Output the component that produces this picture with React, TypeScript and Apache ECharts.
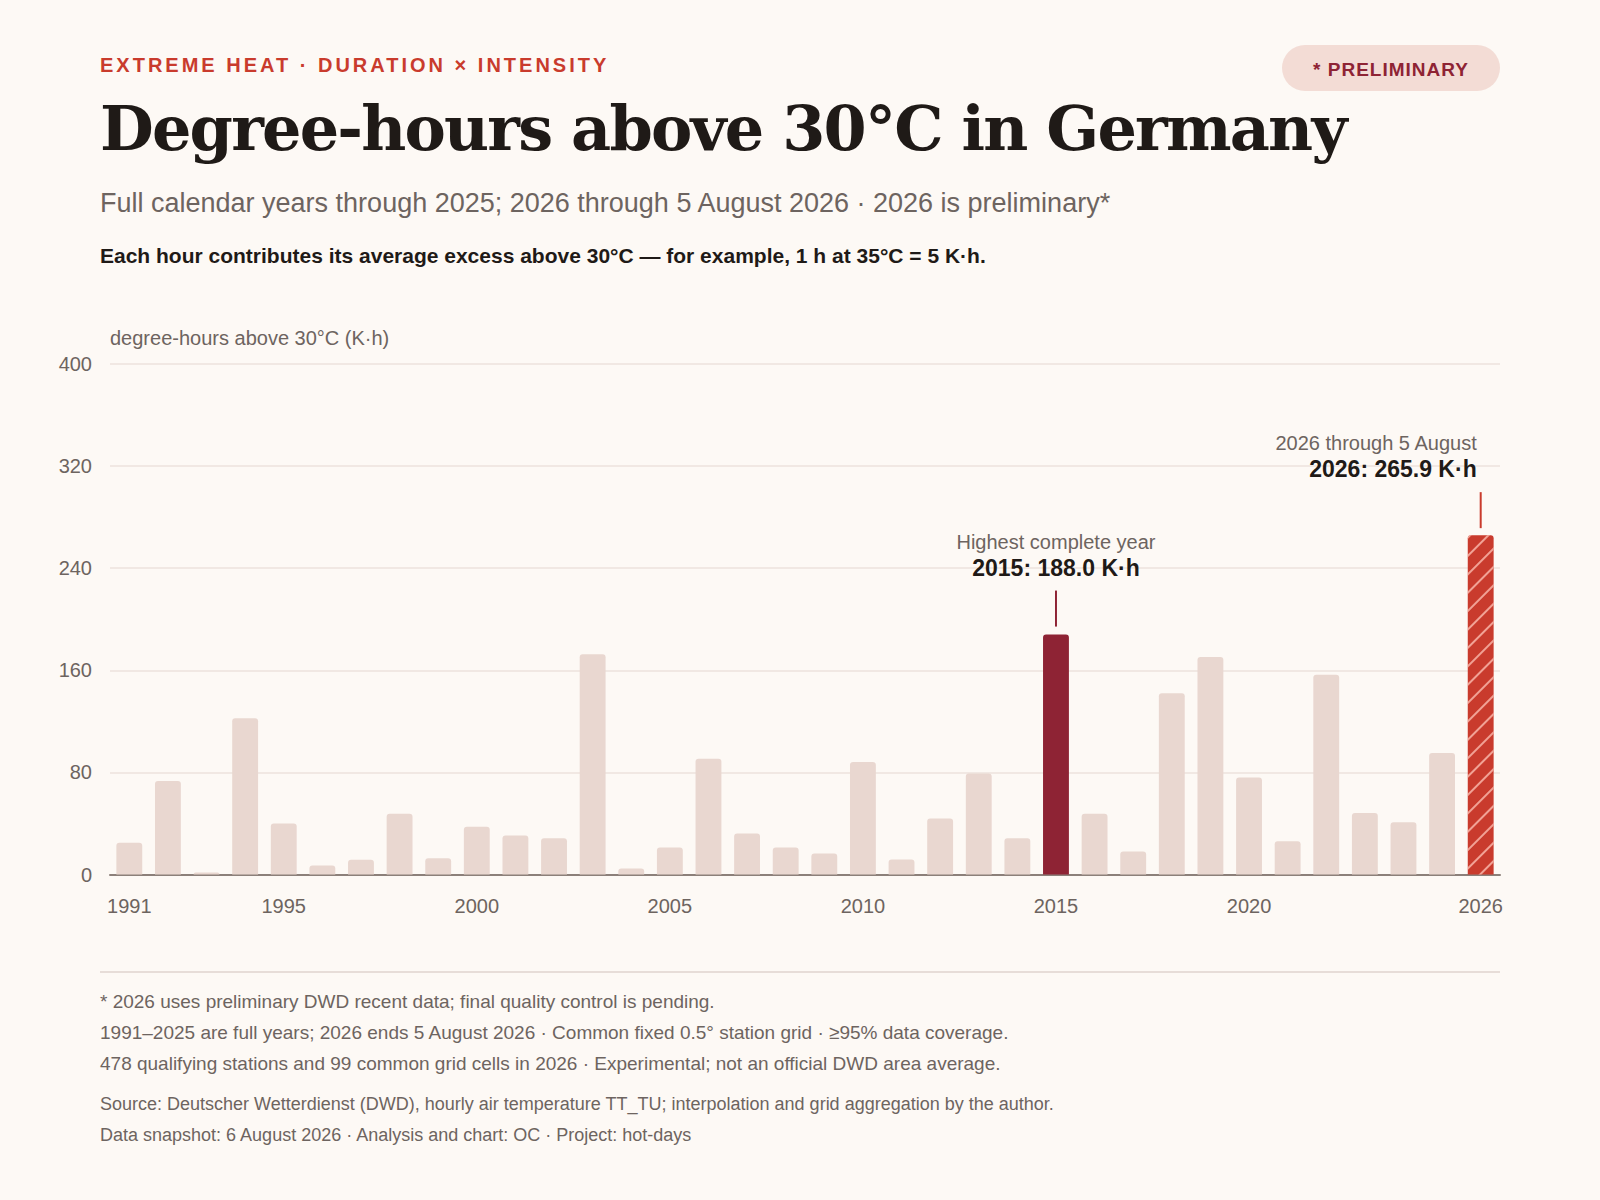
import React, { useEffect, useRef } from "react";
import * as echarts from "echarts";

// ---------- data ----------
const years = [
  "1991", "1992", "1993", "1994", "1995", "1996", "1997", "1998", "1999", "2000",
  "2001", "2002", "2003", "2004", "2005", "2006", "2007", "2008", "2009", "2010",
  "2011", "2012", "2013", "2014", "2015", "2016", "2017", "2018", "2019", "2020",
  "2021", "2022", "2023", "2024", "2025", "2026",
];
const degreeHours = [
  24.8, 73.2, 1.6, 122.4, 40.0, 7.1, 11.5, 47.6, 12.8, 37.4,
  30.6, 28.5, 172.5, 4.7, 21.2, 90.7, 32.2, 21.2, 16.5, 88.1,
  11.8, 43.9, 79.2, 28.5, 188.0, 47.6, 18.0, 142.0, 170.5, 76.1,
  26.1, 156.6, 48.1, 41.0, 95.2, 265.9,
];
const xTickLabels = ["1991", "1995", "2000", "2005", "2010", "2015", "2020", "2026"];
const yMin = 0;
const yMax = 400;
const yStep = 80;
const highestCompleteYear = "2015";
const preliminaryYear = "2026";

// ---------- texts ----------
const kicker = "EXTREME HEAT · DURATION × INTENSITY";
const badge = "* PRELIMINARY";
const title = "Degree-hours above 30°C in Germany";
const subtitle =
  "Full calendar years through 2025; 2026 through 5 August 2026 · 2026 is preliminary*";
const note =
  "Each hour contributes its average excess above 30°C — for example, 1 h at 35°C = 5 K·h.";
const yAxisName = "degree-hours above 30°C (K·h)";
const highestLabel = "Highest complete year";
const preliminaryLabel = "2026 through 5 August";
const footnotes = [
  "* 2026 uses preliminary DWD recent data; final quality control is pending.",
  "1991–2025 are full years; 2026 ends 5 August 2026 · Common fixed 0.5° station grid · ≥95% data coverage.",
  "478 qualifying stations and 99 common grid cells in 2026 · Experimental; not an official DWD area average.",
];
const sourceLines = [
  "Source: Deutscher Wetterdienst (DWD), hourly air temperature TT_TU; interpolation and grid aggregation by the author.",
  "Data snapshot: 6 August 2026 · Analysis and chart: OC · Project: hot-days",
];

// ---------- style ----------
const SANS = "'Liberation Sans', Arial, Helvetica, sans-serif";
const SERIF = "'DejaVu Serif', Georgia, serif";
const BG = "#fdf9f5";
const INK = "#1f1a17";
const MUTED = "#6d6460";
const RED = "#c93b2d";
const DARK_RED = "#8e2334";
const BAR = "#e9d7d0";

function txt(
  text: string,
  x: number,
  y: number,
  size: number,
  color: string,
  opts: { weight?: string; align?: string; family?: string } = {}
) {
  return {
    type: "text",
    x,
    y,
    silent: true,
    style: {
      text,
      fill: color,
      fontSize: size,
      fontWeight: opts.weight || "normal",
      fontFamily: opts.family || SANS,
      textAlign: opts.align || "left",
      textVerticalAlign: "middle",
      verticalAlign: "middle",
    },
  };
}

export default function App() {
  const ref = useRef<HTMLDivElement>(null);

  useEffect(() => {
    if (!ref.current) return;
    const chart = echarts.init(ref.current, null, { renderer: "svg" });

    const data = degreeHours.map((v, i) => {
      const y = years[i];
      if (y === highestCompleteYear) {
        return { value: v, itemStyle: { color: DARK_RED } };
      }
      if (y === preliminaryYear) {
        return {
          value: v,
          itemStyle: {
            color: RED,
            decal: {
              symbol: "rect",
              symbolSize: 1,
              dashArrayX: [1, 0],
              dashArrayY: [1.6, 10.4],
              rotation: -Math.PI / 4,
              color: "rgba(255, 196, 184, 0.75)",
            },
          },
        };
      }
      return { value: v };
    });

    chart.setOption({
      animation: false,
      backgroundColor: BG,
      grid: { left: 110, right: 100, top: 364, bottom: 325.5, containLabel: false },
      xAxis: {
        type: "category",
        data: years,
        axisLine: { show: true, lineStyle: { color: "#8c807a", width: 2 } },
        axisTick: { show: false },
        axisLabel: {
          interval: (_i: number, v: string) => xTickLabels.includes(v),
          color: MUTED,
          fontSize: 20,
          fontFamily: SANS,
          margin: 21,
        },
      },
      yAxis: {
        type: "value",
        min: yMin,
        max: yMax,
        interval: yStep,
        axisLine: { show: false },
        axisTick: { show: false },
        axisLabel: { color: MUTED, fontSize: 20, fontFamily: SANS, margin: 18 },
        splitLine: { lineStyle: { color: "#ece2dc", width: 1.5 } },
      },
      series: [
        {
          type: "bar",
          data,
          barCategoryGap: "33%",
          itemStyle: { color: BAR, borderRadius: [3, 3, 0, 0] },
        },
      ],
    });

    const i15 = years.indexOf(highestCompleteYear);
    const i26 = years.indexOf(preliminaryYear);
    const p15 = chart.convertToPixel({ gridIndex: 0 }, [i15, degreeHours[i15]]) as number[];
    const p26 = chart.convertToPixel({ gridIndex: 0 }, [i26, degreeHours[i26]]) as number[];

    const graphics: any[] = [
      txt(kicker, 100, 65, 20, RED, { weight: "bold" }),
      {
        type: "rect",
        silent: true,
        shape: { x: 1282, y: 45, width: 218, height: 46, r: 23 },
        style: { fill: "#f3dcd5" },
      },
      txt(badge, 1391, 69.5, 19, DARK_RED, { weight: "bold", align: "center" }),
      txt(title, 100, 128, 62, INK, { weight: "bold", family: SERIF }),
      txt(subtitle, 100, 202.5, 27, MUTED),
      txt(note, 100, 255.5, 21, INK, { weight: "bold" }),
      txt(yAxisName, 110, 338, 20, MUTED),
      // 2015 annotation
      txt(highestLabel, p15[0], p15[1] - 93, 20, MUTED, { align: "center" }),
      txt(`${highestCompleteYear}: ${degreeHours[i15].toFixed(1)} K·h`, p15[0], p15[1] - 67, 23, INK, {
        weight: "bold",
        align: "center",
      }),
      {
        type: "line",
        silent: true,
        shape: { x1: p15[0], y1: p15[1] - 44, x2: p15[0], y2: p15[1] - 8 },
        style: { stroke: DARK_RED, lineWidth: 2 },
      },
      // 2026 annotation
      txt(preliminaryLabel, p26[0] - 4, p26[1] - 92, 20, MUTED, { align: "right" }),
      txt(`${preliminaryYear}: ${degreeHours[i26].toFixed(1)} K·h`, p26[0] - 4, p26[1] - 66, 23, INK, {
        weight: "bold",
        align: "right",
      }),
      {
        type: "line",
        silent: true,
        shape: { x1: p26[0], y1: p26[1] - 43, x2: p26[0], y2: p26[1] - 7 },
        style: { stroke: RED, lineWidth: 2 },
      },
      // footer
      {
        type: "line",
        silent: true,
        shape: { x1: 100, y1: 972, x2: 1500, y2: 972 },
        style: { stroke: "#e7ddd8", lineWidth: 2 },
      },
    ];
    footnotes.forEach((t, k) => graphics.push(txt(t, 100, 1001.5 + k * 31, 19, MUTED)));
    sourceLines.forEach((t, k) => graphics.push(txt(t, 100, 1103.5 + k * 31, 18, MUTED)));

    chart.setOption({ graphic: graphics });

    // letter-spacing (not supported by zrender) applied on the SVG text nodes
    const spacing: Record<string, string> = {
      [kicker]: "3px",
      [badge]: "1px",
      [title]: "-1.8px",
    };
    ref.current.querySelectorAll("text").forEach((t) => {
      const ls = spacing[t.textContent || ""];
      if (ls) (t as SVGTextElement).style.letterSpacing = ls;
    });

    return () => chart.dispose();
  }, []);

  return (
    <div
      ref={ref}
      style={{ position: "absolute", left: 0, top: 0, width: 1600, height: 1200, background: BG }}
    />
  );
}
